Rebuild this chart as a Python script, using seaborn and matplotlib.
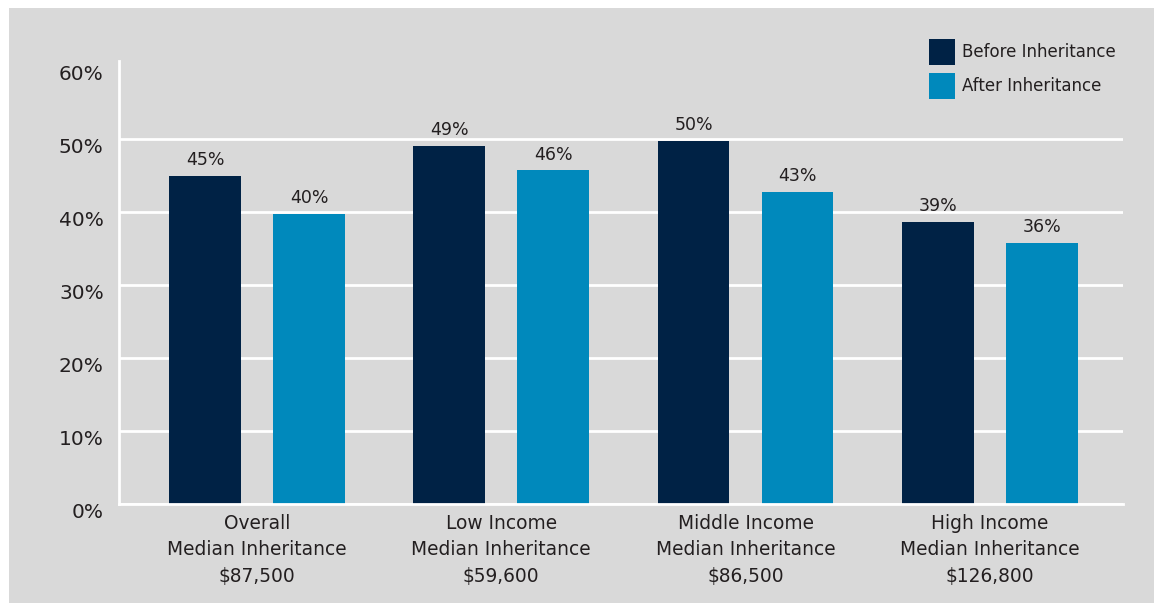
import matplotlib
matplotlib.use("Agg")
import matplotlib.pyplot as plt
import matplotlib.transforms as mtransforms
from matplotlib.patches import Rectangle
import seaborn as sns
import pandas as pd

categories = [
    "Overall\nMedian Inheritance\n$87,500",
    "Low Income\nMedian Inheritance\n$59,600",
    "Middle Income\nMedian Inheritance\n$86,500",
    "High Income\nMedian Inheritance\n$126,800",
]
before = [45.0, 49.0, 49.7, 38.7]
after = [39.8, 45.7, 42.8, 35.8]
series = ["Before Inheritance", "After Inheritance"]
yticks = [0, 10, 20, 30, 40, 50, 60]

BG = "#d9d9d9"
DARK = "#002245"
LIGHT = "#0089bc"
TXT = "#231f20"

df = pd.DataFrame({
    "category": categories * 2,
    "series": [series[0]] * len(categories) + [series[1]] * len(categories),
    "value": before + after,
})

sns.set_theme(style="white")
plt.rcParams["font.family"] = ["DejaVu Sans"]

W, H = 1154, 603
fig = plt.figure(figsize=(W / 100, H / 100), dpi=100, facecolor="white")
bgrect = Rectangle((9 / W, 0), 1 - 9 / W, (H - 8) / H,
                   transform=fig.transFigure, facecolor=BG,
                   edgecolor="none", zorder=-5)
fig.add_artist(bgrect)

left, right, top, bottom = 119, 1123, 61, 504
ax = fig.add_axes([left / W, (H - bottom) / H, (right - left) / W, (bottom - top) / H])
ax.set_zorder(2)
ax.set_facecolor(BG)

sns.barplot(data=df, x="category", y="value", hue="series",
            palette=[DARK, LIGHT], width=0.851, gap=0.31, ax=ax,
            saturation=1, edgecolor="none", linewidth=0, legend=True)

for cont in ax.containers:
    vals = [b.get_height() for b in cont]
    ax.bar_label(cont, labels=[f"{round(v)}%" for v in vals], padding=5,
                 fontsize=12.5, color=TXT)

ax.set_xlim(-0.565, 3.545)
ax.set_ylim(0, 60.7)
ax.set_yticks(yticks)
ax.set_yticklabels([f"{t}%" for t in yticks], fontsize=14.5, color=TXT)
ax.tick_params(axis="y", length=0, pad=11)
ax.tick_params(axis="x", length=0, pad=7, labelsize=13.4, labelcolor=TXT)
offset = mtransforms.ScaledTranslation(0, -6 / 100, fig.dpi_scale_trans)
for lab in ax.get_yticklabels():
    lab.set_transform(lab.get_transform() + offset)
for lab in ax.get_xticklabels():
    lab.set_linespacing(1.5)

ax.set_xlabel("")
ax.set_ylabel("")
ax.grid(axis="y", color="white", linewidth=2)
ax.grid(axis="x", visible=False)
ax.get_ygridlines()[-1].set_visible(False)
ax.set_axisbelow(True)
for s in ["top", "right"]:
    ax.spines[s].set_visible(False)
for s in ["left", "bottom"]:
    ax.spines[s].set_color("white")
    ax.spines[s].set_linewidth(2)

handles, labels = ax.get_legend_handles_labels()
fs = 12
fpx = fs * 100 / 72
hh = (26 / fpx - 0.245) / 0.65
ax.legend(handles, labels, loc="upper left",
          bbox_to_anchor=(929 / W, (H - 39) / H), bbox_transform=fig.transFigure,
          frameon=False, fontsize=fs, borderpad=0, borderaxespad=0,
          handlelength=26 / fpx, handleheight=hh,
          labelspacing=8 / fpx, handletextpad=7 / fpx,
          labelcolor=TXT)

fig.savefig("out.png", dpi=100, facecolor="white")
